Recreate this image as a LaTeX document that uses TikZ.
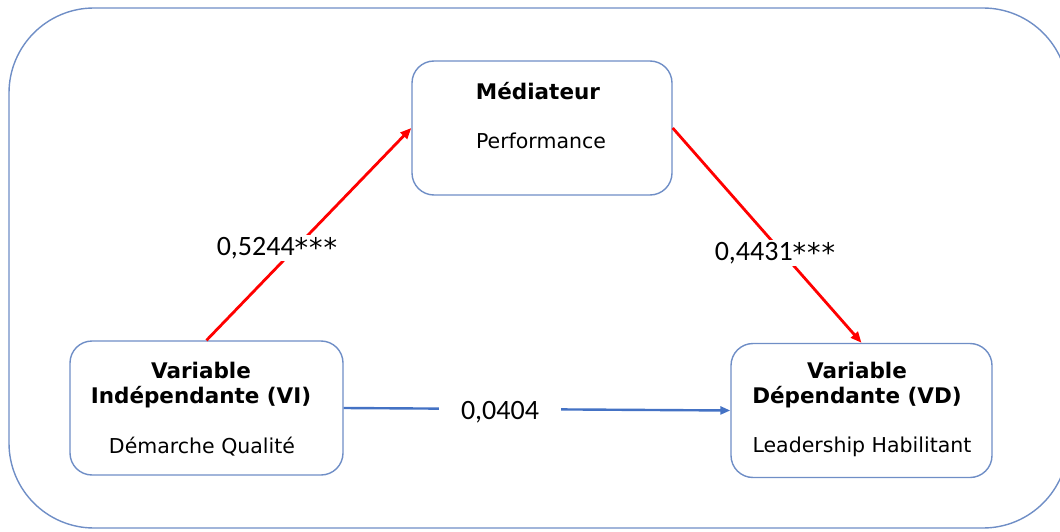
\documentclass[tikz,border=0pt]{standalone}
\usepackage{fontspec}
\setmainfont{DejaVu Sans}
\newfontfamily\numfont{Carlito}
\usetikzlibrary{arrows.meta,positioning}
\definecolor{boxblue}{HTML}{6F8EC6}
\definecolor{linkblue}{HTML}{4472C4}
\newcommand\stars{{\fontspec{DejaVu Sans}\fontsize{27}{30}\selectfont\raisebox{-2.5pt}{*\kern1pt*\kern1pt*}}}
\tikzset{
  varbox/.style={draw=boxblue, line width=1.4pt, rounded corners=22pt, minimum width=#1, minimum height=134pt, inner sep=0pt},
  titletxt/.style={align=center, font=\fontsize{21.5}{25}\selectfont\bfseries, inner sep=0pt},
  subtxt/.style={font=\fontsize{20.5}{25}\selectfont, inner sep=0pt},
  coeff/.style={fill=white, font=\numfont\fontsize{28}{30}\selectfont, inner sep=2pt},
  redlink/.style={draw=red, line width=2.8pt, -{Triangle[length=11pt,width=9pt]}},
  bluelink/.style={draw=linkblue, line width=2.4pt, -{Triangle[length=10pt,width=8pt]}}
}
\begin{document}
\begin{tikzpicture}[x=1pt,y=-1pt]
\useasboundingbox (0,0) rectangle (1060,532);
\draw[boxblue, line width=1.4pt, rounded corners=85pt] (9,8) rectangle (1068,528);
%
% boxes
%
\node[varbox=260pt] (med) at (542,128) {};
\node[titletxt] (medtitle) at (538,91) {Médiateur};
\node[subtxt] (medsub) at (541,141) {Performance};
\node[varbox=273pt] (vi) at (206.5,408) {};
\node[titletxt] (vititle) at (201,385) {Variable\\Indépendante (VI)};
\node[subtxt] (visub) at (202,447) {Démarche Qualité};
\node[varbox=261pt] (vd) at (861.5,410.5) {};
\node[titletxt] (vdtitle) at (857,385) {Variable\\Dépendante (VD)};
\node[subtxt] (vdsub) at (862,447) {Leadership Habilitant};
%
% links
%
\draw[redlink] (vi.north) -- (med.west);
\draw[redlink] (med.east) -- (vd.north);
\draw[bluelink] (vi.east) -- (vd.west);
\node[coeff] (c1) at (277,248) {0,5244\stars};
\node[coeff] (c2) at (775,253) {0,4431\stars};
\node[coeff, inner xsep=22pt] (c3) at (500,412) {0,0404};
\end{tikzpicture}
\end{document}
